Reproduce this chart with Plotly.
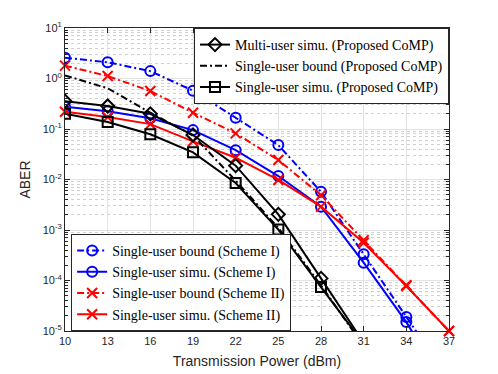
import plotly.graph_objects as go

power = [10, 13, 16, 19, 22, 25, 28, 31, 34, 37]
power_comp = [10, 13, 16, 19, 22, 25, 28, 31]

bound_s1 = [2.57, 2.1, 1.4, 0.575, 0.167, 0.048, 0.0057, 3.3e-4, 1.9e-5, 1.1e-6]
simu_s1 = [0.277, 0.224, 0.163, 0.095, 0.038, 0.0117, 0.0029, 2.25e-4, 1.5e-5, 6.3e-7]
bound_s2 = [1.8, 1.12, 0.565, 0.21, 0.082, 0.0243, 0.0049, 6.3e-4, 8.1e-5, 1.0e-5]
simu_s2 = [0.22, 0.172, 0.125, 0.057, 0.027, 0.0098, 0.0029, 5.6e-4, 7.8e-5, 1.0e-5]

multi_comp = [0.355, 0.285, 0.2, 0.076, 0.0188, 0.00204, 1.1e-4, 5.9e-6]
bound_comp = [1.15, 0.64, 0.21, 0.075, 0.0095, 0.0011, 8e-5, 5e-6]
simu_comp = [0.2, 0.138, 0.0785, 0.0345, 0.0085, 0.00102, 7.4e-5, 5.6e-6]

y_tickvals = [1e-5, 1e-4, 1e-3, 1e-2, 1e-1, 1, 10]
y_ticktext = ["10<sup>-5</sup>", "10<sup>-4</sup>", "10<sup>-3</sup>", "10<sup>-2</sup>",
              "10<sup>-1</sup>", "10<sup>0</sup>", "10<sup>1</sup>"]

DASHDOT = "7px,3px,2px,3px"

fig = go.Figure()


def add(x, y, name, color, dash, symbol, legend, clip=True):
    fig.add_trace(go.Scatter(
        x=x, y=y, name=name, mode="lines+markers", legend=legend,
        line=dict(color=color, width=2, dash=dash),
        marker=dict(symbol=symbol, size=10, color=color,
                    line=dict(color=color, width=2)),
        cliponaxis=clip,
    ))


add(power, bound_s1, "Single-user bound (Scheme I)", "#0000ff", DASHDOT, "circle-open", "legend2")
add(power, simu_s1, "Single-user simu. (Scheme I)", "#0000ff", "solid", "circle-open", "legend2")
add(power, bound_s2, "Single-user bound (Scheme II)", "#ff0000", DASHDOT, "x-thin-open", "legend2", False)
add(power, simu_s2, "Single-user simu. (Scheme II)", "#ff0000", "solid", "x-thin-open", "legend2", False)
add(power_comp, multi_comp, "Multi-user simu. (Proposed CoMP)", "#000000", "solid", "diamond-open", "legend")
fig.add_trace(go.Scatter(
    x=power_comp, y=bound_comp, name="Single-user bound (Proposed CoMP)", mode="lines",
    legend="legend", line=dict(color="#000000", width=2, dash=DASHDOT),
))
add(power_comp, simu_comp, "Single-user simu. (Proposed CoMP)", "#000000", "solid", "square-open", "legend")

axis_font = dict(family="Liberation Sans", size=11, color="#262626")
title_font = dict(family="Liberation Sans", size=14, color="#262626")
legend_style = dict(
    font=dict(family="Liberation Serif", size=14, color="#000000"),
    bgcolor="white", bordercolor="#262626", borderwidth=1,
    tracegroupgap=0,
)

fig.update_layout(
    width=498, height=374,
    margin=dict(l=65, r=49, t=28, b=43),
    paper_bgcolor="white", plot_bgcolor="white",
    xaxis=dict(
        range=[10, 37], tickmode="array", tickvals=power, automargin=False,
        ticks="inside", ticklen=5, tickcolor="#262626",
        showline=True, linecolor="#262626", linewidth=1, mirror="allticks",
        showgrid=True, gridcolor="#e3e3e3", gridwidth=1, zeroline=False,
        tickfont=axis_font,
        title=dict(text="Transmission Power (dBm)", font=title_font, standoff=9),
    ),
    yaxis=dict(
        type="log", range=[-5, 1], tickmode="array", automargin=False,
        tickvals=y_tickvals, ticktext=y_ticktext,
        ticks="inside", ticklen=5, tickcolor="#262626",
        showline=True, linecolor="#262626", linewidth=1, mirror="allticks",
        showgrid=True, gridcolor="#e3e3e3", gridwidth=1, zeroline=False,
        tickfont=axis_font,
        minor=dict(dtick="D1", ticks="inside", ticklen=3, tickcolor="#262626",
                   showgrid=True, gridcolor="#d0d0d0", griddash="dot", gridwidth=1),
        title=dict(text="ABER", font=title_font, standoff=8),
    ),
    legend=dict(x=1, y=1.0, xanchor="right", yanchor="top", **legend_style),
    legend2=dict(x=0.016, y=0.0, xanchor="left", yanchor="bottom", **legend_style),
    showlegend=True,
)

# page body has an 8px default margin; drop it so the figure sits at 0,0
fig.write_html("out.html", config={"displayModeBar": False},
               post_script="document.body.style.margin='0';")
